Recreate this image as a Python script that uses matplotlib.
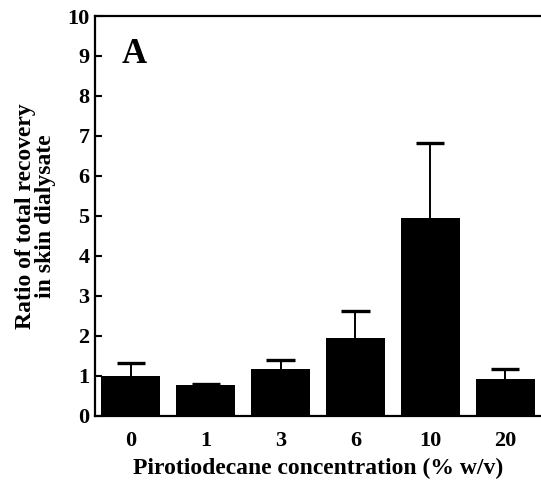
import numpy as np
import matplotlib.pyplot as plt

plt.rcParams['font.family'] = ['Liberation Serif', 'DejaVu Serif']
plt.rcParams['font.weight'] = 'bold'

conc = ['0', '1', '3', '6', '10', '20']
ratio = [1.0, 0.78, 1.17, 1.95, 4.95, 0.93]
err_up = [0.32, 0.02, 0.23, 0.67, 1.88, 0.24]

fig = plt.figure(figsize=(5.41, 4.94), dpi=100)
ax = fig.add_axes([0.1756, 0.158, 0.8244, 0.8096])

x = np.arange(len(conc))
tops = np.array(ratio) + np.array(err_up)
ax.bar(x, ratio, width=0.79, color='black', zorder=2)
# upper error bars only
ax.vlines(x, ratio, tops, color='black', linewidth=1.4, zorder=1)
ax.hlines(tops, x - 0.19, x + 0.19, color='black', linewidth=2.4, zorder=1)

ax.set_xlim(-0.48, 5.48)
ax.set_ylim(0, 10)
ax.set_yticks(range(0, 11))
ax.set_xticks(x)
ax.set_xticklabels(conc)
ax.tick_params(axis='y', direction='in', length=5, width=1.5, labelsize=16, pad=4)
ax.tick_params(axis='x', length=0, labelsize=16, pad=11)
for lab in ax.get_xticklabels() + ax.get_yticklabels():
    lab.set_fontweight('bold')

for s in ['left', 'top', 'bottom']:
    ax.spines[s].set_linewidth(1.6)
ax.spines['right'].set_visible(False)

ax.text(0.06, 0.905, 'A', transform=ax.transAxes, fontsize=25, fontweight='bold',
        va='center', ha='left')

ax.set_ylabel('Ratio of total recovery\nin skin dialysate', fontsize=17,
              fontweight='bold', labelpad=8, linespacing=0.95)
ax.set_xlabel('Pirotiodecane concentration (% w/v)', fontsize=17,
              fontweight='bold', labelpad=5)

fig.savefig('out.png', dpi=100)
